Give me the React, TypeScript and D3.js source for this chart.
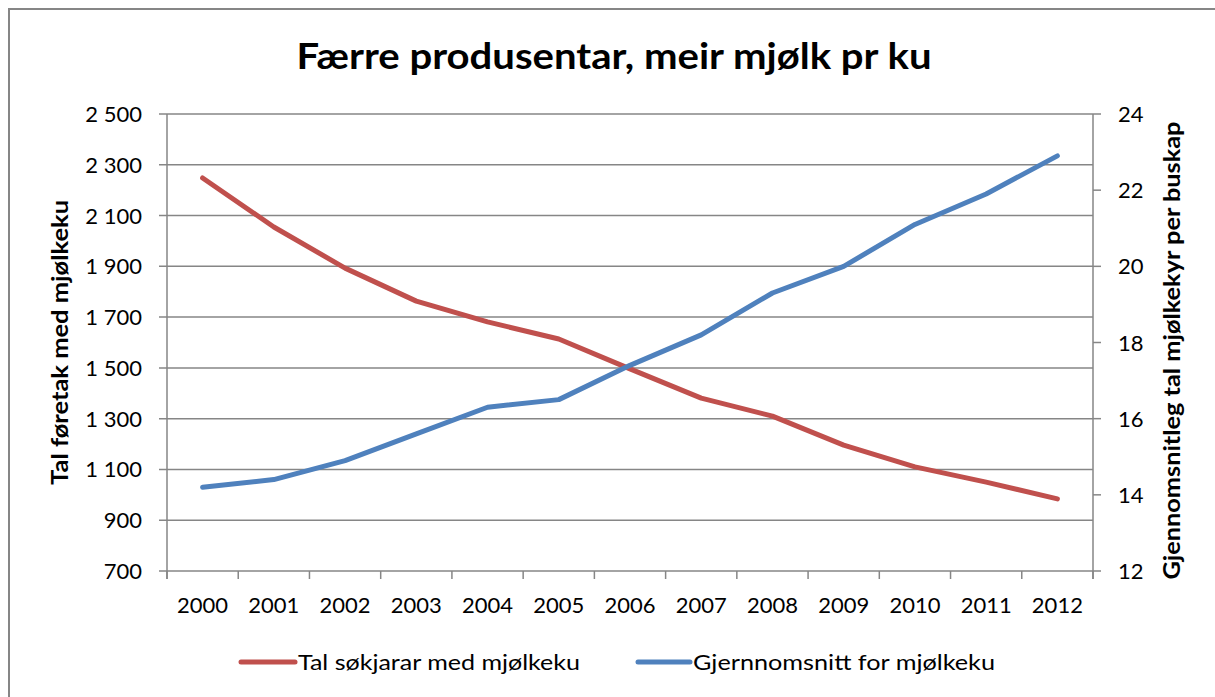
import * as d3 from "d3";

// chart data
const years = ["2000", "2001", "2002", "2003", "2004", "2005", "2006", "2007", "2008", "2009", "2010", "2011", "2012"];
const producers = [2248, 2055, 1893, 1763, 1681, 1614, 1496, 1381, 1310, 1196, 1110, 1050, 984];
const avgCows = [14.2, 14.4, 14.9, 15.6, 16.3, 16.5, 17.4, 18.2, 19.3, 20.0, 21.1, 21.9, 22.9];
const leftTicks = [700, 900, 1100, 1300, 1500, 1700, 1900, 2100, 2300, 2500];
const rightTicks = [12, 14, 16, 18, 20, 22, 24];

const title = "Færre produsentar, meir mjølk pr ku";
const leftTitle = "Tal føretak med mjølkeku";
const rightTitle = "Gjennomsnitleg tal mjølkekyr per buskap";
const seriesNames = ["Tal søkjarar med mjølkeku", "Gjernnomsnitt for mjølkeku"];

const RED = "#C0504D";
const BLUE = "#4F81BD";
const GRID = "#868686";
const FONT = "Lato, 'Open Sans', sans-serif";

export default function App() {
    const plot = { left: 167, right: 1093, top: 114, bottom: 571 };

    const x = d3.scaleBand(years, [plot.left, plot.right]);
    const yLeft = d3.scaleLinear([700, 2500], [plot.bottom, plot.top]);
    const yRight = d3.scaleLinear([12, 24], [plot.bottom, plot.top]);
    const cx = (d: string) => (x(d) as number) + x.bandwidth() / 2;

    const redLine = d3.line<number>()
        .x((_, i) => cx(years[i]))
        .y(d => yLeft(d));
    const blueLine = d3.line<number>()
        .x((_, i) => cx(years[i]))
        .y(d => yRight(d));

    const fmt = (v: number) => d3.format(",")(v).replace(/,/g, " ");
    const boundaries = [...years.map(y => x(y) as number), plot.right];
    const midY = (plot.top + plot.bottom) / 2;

    return (
        <svg width={1215} height={697} style={{ position: "absolute", left: 0, top: 0 }} fontFamily={FONT}>
            <rect x={0} y={0} width={1215} height={697} fill="#fff" />
            <rect x={9} y={9} width={1220} height={700} fill="none" stroke={GRID} strokeWidth={2} />

            <text x={614} y={69} textAnchor="middle" fontSize={36} fontWeight="bold" textLength={635} lengthAdjust="spacingAndGlyphs">{title}</text>

            {/* grid + left axis */}
            <g id="left-axis">
                {leftTicks.map(t => (
                    <g key={t}>
                        <line x1={plot.left - 8} x2={t === 700 ? plot.left : plot.right} y1={yLeft(t)} y2={yLeft(t)} stroke={GRID} strokeWidth={1.5} />
                        <text x={142} y={yLeft(t) + 8} textAnchor="end" fontSize={22}>{fmt(t)}</text>
                    </g>
                ))}
                <line x1={plot.left} x2={plot.left} y1={plot.top} y2={plot.bottom + 8} stroke={GRID} strokeWidth={1.5} />
            </g>

            {/* right axis */}
            <g id="right-axis">
                <line x1={plot.right} x2={plot.right} y1={plot.top} y2={plot.bottom + 8} stroke={GRID} strokeWidth={1.5} />
                {rightTicks.map(t => (
                    <g key={t}>
                        <line x1={plot.right} x2={plot.right + 8} y1={yRight(t)} y2={yRight(t)} stroke={GRID} strokeWidth={1.5} />
                        <text x={1118} y={yRight(t) + 8} fontSize={22}>{t}</text>
                    </g>
                ))}
            </g>

            {/* x axis */}
            <g id="x-axis">
                <line x1={plot.left} x2={plot.right} y1={plot.bottom} y2={plot.bottom} stroke={GRID} strokeWidth={1.5} />
                {boundaries.map((b, i) => (
                    <line key={i} x1={b} x2={b} y1={plot.bottom} y2={plot.bottom + 8} stroke={GRID} strokeWidth={1.5} />
                ))}
                {years.map(y => (
                    <text key={y} x={cx(y)} y={613} textAnchor="middle" fontSize={22}>{y}</text>
                ))}
            </g>

            <text transform={`translate(68, ${midY}) rotate(-90)`} textAnchor="middle" fontSize={22} fontWeight="bold" textLength={285} lengthAdjust="spacingAndGlyphs">{leftTitle}</text>
            <text transform={`translate(1180, ${midY + 8}) rotate(-90)`} textAnchor="middle" fontSize={22} fontWeight="bold" textLength={458} lengthAdjust="spacingAndGlyphs">{rightTitle}</text>

            <path d={redLine(producers) ?? ""} fill="none" stroke={RED} strokeWidth={5} strokeLinecap="round" strokeLinejoin="round" />
            <path d={blueLine(avgCows) ?? ""} fill="none" stroke={BLUE} strokeWidth={5} strokeLinecap="round" strokeLinejoin="round" />

            {/* legend */}
            <g id="legend">
                <line x1={241} x2={295} y1={662} y2={662} stroke={RED} strokeWidth={5} strokeLinecap="round" />
                <text x={298} y={670} fontSize={22} textLength={282} lengthAdjust="spacingAndGlyphs">{seriesNames[0]}</text>
                <line x1={638} x2={690} y1={662} y2={662} stroke={BLUE} strokeWidth={5} strokeLinecap="round" />
                <text x={693} y={670} fontSize={22} textLength={302} lengthAdjust="spacingAndGlyphs">{seriesNames[1]}</text>
            </g>
        </svg>
    );
}
